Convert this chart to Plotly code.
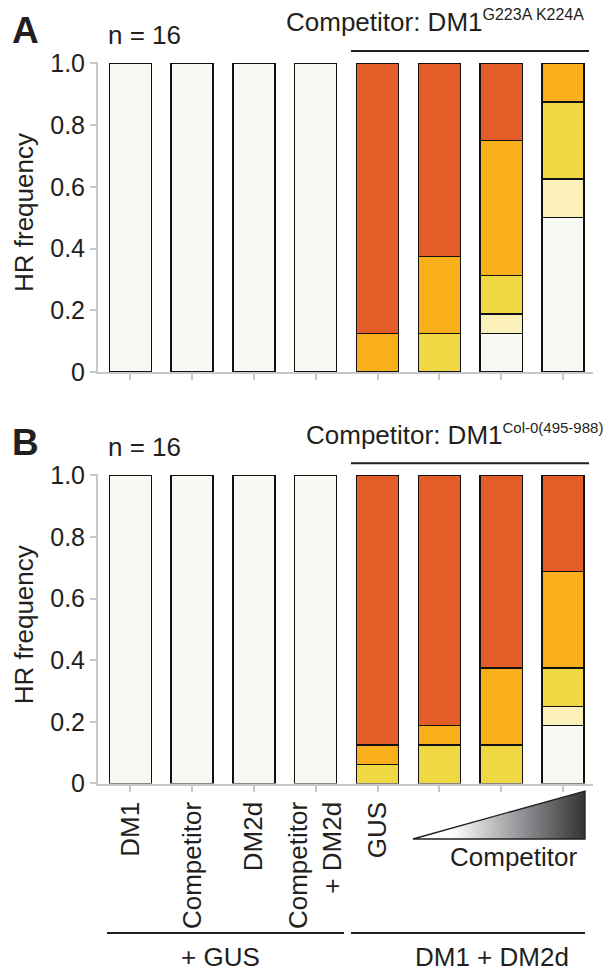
import base64
import plotly.graph_objects as go

W, H = 613, 972
PAGE_PAD = 0  # body margin removed by post_script below

# ---------------- data ----------------
categories = [0, 1, 2, 3, 4, 5, 6, 7]
label_positions = [0, 1, 2, 3, 4]
tick_labels = ["DM1", "Competitor", "DM2d", "Competitor<br>+ DM2d", "GUS"]
y_tick_vals = [0, 0.2, 0.4, 0.6, 0.8, 1.0]
y_tick_text = ["0", "0.2", "0.4", "0.6", "0.8", "1.0"]

# HR classes stacked bottom -> top (fractions of n = 16)
a_class0 = [1, 1, 1, 1, 0, 0, 0.125, 0.5]
a_class1 = [0, 0, 0, 0, 0, 0, 0.0625, 0.125]
a_class2 = [0, 0, 0, 0, 0, 0.125, 0.125, 0.25]
a_class3 = [0, 0, 0, 0, 0.125, 0.25, 0.4375, 0.125]
a_class4 = [0, 0, 0, 0, 0.875, 0.625, 0.25, 0]

b_class0 = [1, 1, 1, 1, 0, 0, 0, 0.1875]
b_class1 = [0, 0, 0, 0, 0, 0, 0, 0.0625]
b_class2 = [0, 0, 0, 0, 0.0625, 0.125, 0.125, 0.125]
b_class3 = [0, 0, 0, 0, 0.0625, 0.0625, 0.25, 0.3125]
b_class4 = [0, 0, 0, 0, 0.875, 0.8125, 0.625, 0.3125]

class_colors = ["#f8f9f3", "#fbf0b9", "#f0d844", "#f9ae1b", "#e45c27"]

FONT = "Liberation Sans, Arial, Helvetica, sans-serif"
TXT = "#231f20"
AX = "#c8c8c8"
FS = 26


def px(x):
    return (x - PAGE_PAD) / W


def py(y):
    return 1 - (y - PAGE_PAD) / H


def dom(y1_px, y0_px, top=1.004):
    scale = (y0_px - y1_px)
    return [py(y0_px), py(y1_px - (top - 1) * scale)]


fig = go.Figure()

panels = [
    ([a_class0, a_class1, a_class2, a_class3, a_class4], "x", "y"),
    ([b_class0, b_class1, b_class2, b_class3, b_class4], "x2", "y2"),
]
for series, xa, ya in panels:
    for vals, col in zip(series, class_colors):
        fig.add_trace(go.Bar(
            x=categories,
            y=[v if v > 0 else None for v in vals],
            marker=dict(color=col, line=dict(color="#111111", width=1.4)),
            width=0.68,
            xaxis=xa, yaxis=ya,
            showlegend=False, hoverinfo="skip",
        ))

tickstyle = dict(ticks="outside", ticklen=6, tickwidth=2, tickcolor=AX)
xcommon = dict(
    domain=[px(98), px(593)], range=[-0.523, 7.485],
    **tickstyle,
    minor=dict(**tickstyle, tick0=0, dtick=1),
    showline=True, linecolor=AX, linewidth=2,
    showgrid=False, zeroline=False, fixedrange=True, automargin=False,
)
ycommon = dict(
    range=[0, 1.004], tickmode="array", tickvals=y_tick_vals, ticktext=y_tick_text,
    **tickstyle,
    showline=True, linecolor=AX, linewidth=2,
    showgrid=False, zeroline=False, fixedrange=True, automargin=False,
    tickfont=dict(family=FONT, size=25, color=TXT),
)

fig.update_layout(
    width=W, height=H,
    margin=dict(l=0, r=0, t=0, b=0, autoexpand=False),
    paper_bgcolor="white", plot_bgcolor="white",
    barmode="stack",
    font=dict(family=FONT, size=FS, color=TXT),
    xaxis=dict(**xcommon, anchor="y", tickmode="array", tickvals=categories,
               showticklabels=False),
    yaxis=dict(**ycommon, anchor="x", domain=dom(63.3, 372)),
    xaxis2=dict(**xcommon, anchor="y2", tickmode="array", tickvals=label_positions,
                ticktext=tick_labels, showticklabels=True,
                tickangle=-90, tickfont=dict(family=FONT, size=FS, color=TXT)),
    yaxis2=dict(**ycommon, anchor="x2", domain=dom(475.5, 783.5)),
)

ann = []


def add_text(text, x, y, size=FS, bold=False, xanchor="center", yanchor="middle", angle=0):
    ann.append(dict(
        text=("<b>%s</b>" % text) if bold else text,
        x=px(x), y=py(y), xref="paper", yref="paper",
        xanchor=xanchor, yanchor=yanchor, showarrow=False, textangle=angle,
        font=dict(family=FONT, size=size, color=TXT),
    ))


def sup(s, size):
    return '<sup><span style="font-size:%dpx">%s</span></sup>' % (size, s)


off = 412.2
add_text("A", 25, 30, size=37, bold=True)
add_text("B", 25, 30 + off, size=37, bold=True)
add_text("n = 16", 144, 35)
add_text("n = 16", 144, 35 + off)
add_text("Competitor: DM1" + sup("G223A K224A", 16), 284, 22, xanchor="left")
add_text("Competitor: DM1" + sup("Col-0(495-988)", 15), 304, 22 + off, xanchor="left")
add_text("HR frequency", 24, 213, angle=-90)
add_text("HR frequency", 24, 213 + off, angle=-90)
add_text("Competitor", 513, 857)
add_text("+ GUS", 220, 957)
add_text("DM1 + DM2d", 492, 957)

shapes = []


def hline(x0, x1, y, color="#231f20", w=2):
    shapes.append(dict(type="line", xref="paper", yref="paper",
                       x0=px(x0), x1=px(x1), y0=py(y), y1=py(y),
                       line=dict(color=color, width=w)))


hline(351, 589, 51)
hline(351, 589, 51 + off)
hline(107, 344, 933)
hline(351, 585, 933)

fig.update_layout(annotations=ann, shapes=shapes)

# gradient wedge ("increasing competitor")
tw, th = 174, 50
svg = (
    '<svg xmlns="http://www.w3.org/2000/svg" width="%d" height="%d" viewBox="0 0 %d %d">'
    '<defs><linearGradient id="g" x1="0" y1="0" x2="1" y2="0">'
    '<stop offset="0" stop-color="#ffffff"/>'
    '<stop offset="0.22" stop-color="#ffffff"/>'
    '<stop offset="0.6" stop-color="#9a9b9e"/>'
    '<stop offset="1" stop-color="#333335"/>'
    '</linearGradient></defs>'
    '<polygon points="1,%g %g,1 %g,%g" fill="url(#g)" stroke="#231f20" stroke-width="1.3"/>'
    '</svg>'
) % (tw, th, tw, th, th - 1, tw - 1, tw - 1, th - 1)
src = "data:image/svg+xml;base64," + base64.b64encode(svg.encode()).decode()
fig.add_layout_image(dict(
    source=src, xref="paper", yref="paper",
    x=px(412), y=py(790), sizex=tw / W, sizey=th / H,
    xanchor="left", yanchor="top", sizing="stretch", layer="above",
))

fig.write_html("out.html", config={"displayModeBar": False, "staticPlot": True},
               post_script="document.body.style.margin='0px';")
